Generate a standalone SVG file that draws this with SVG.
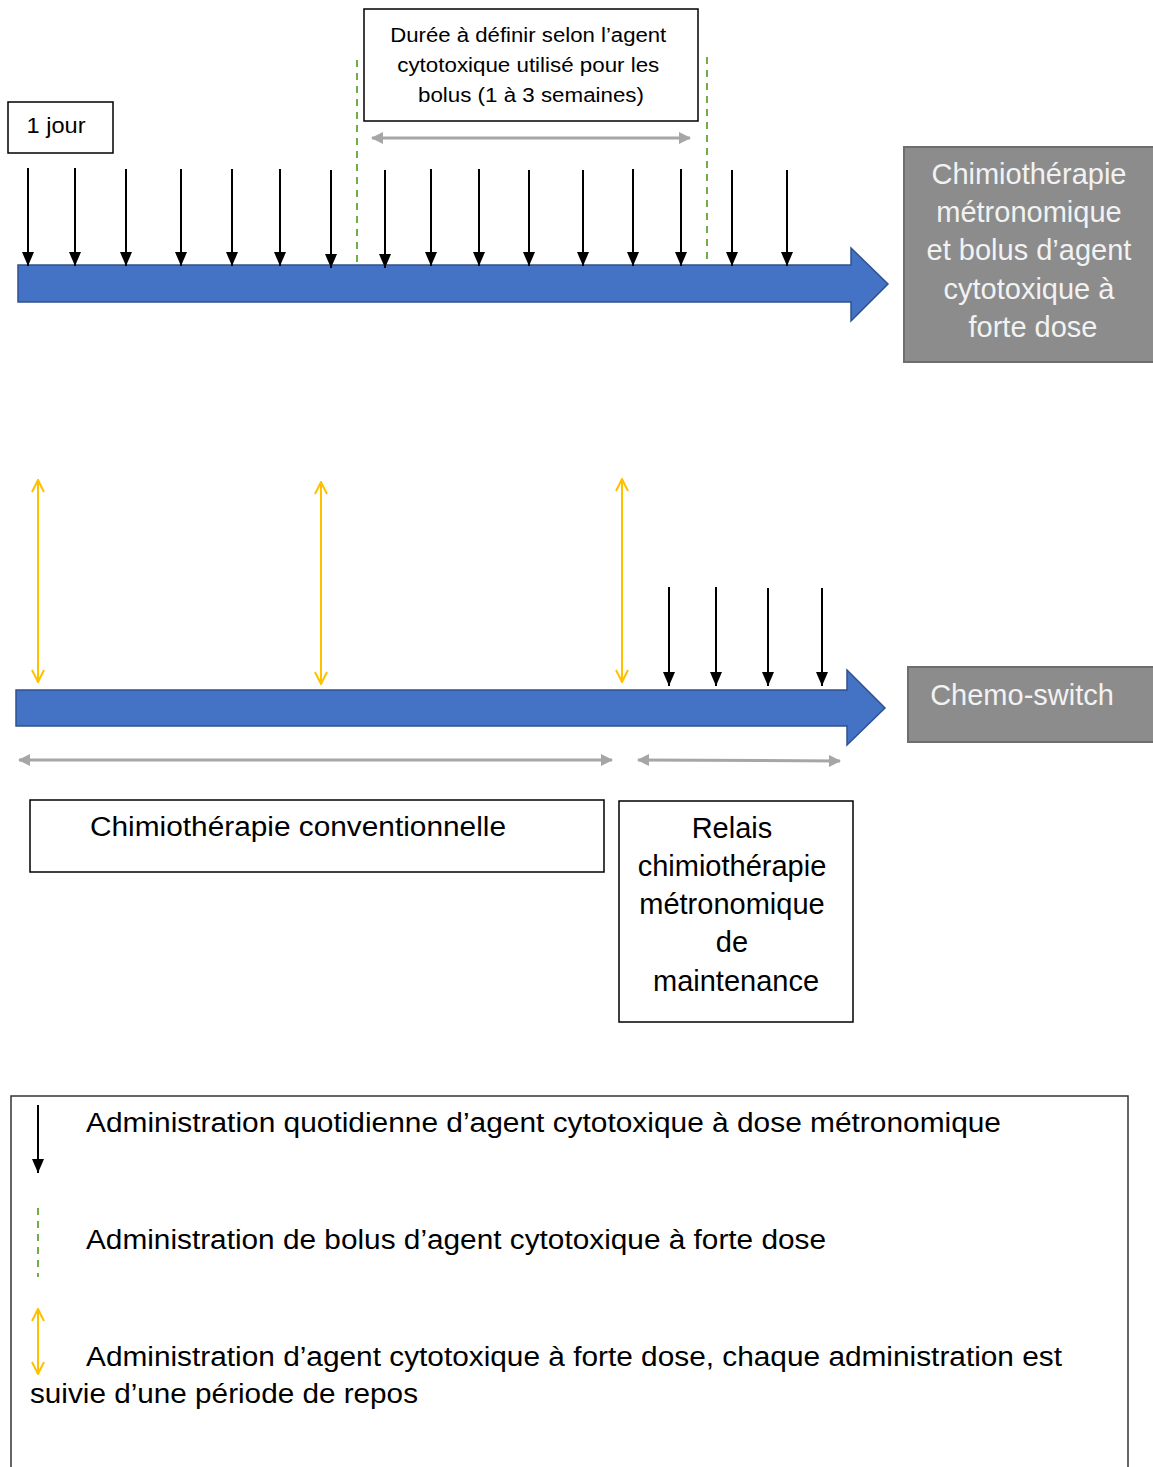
<svg xmlns="http://www.w3.org/2000/svg" width="1153" height="1467" viewBox="0 0 1153 1467">
<style>
.t{font-family:"Liberation Sans",Arial,sans-serif;fill:#000}
.w{font-family:"Liberation Sans",Arial,sans-serif;fill:#f2f2f2;font-size:29px}
.box{fill:#fff;stroke:#000;stroke-width:1.5}
.gbox{fill:#8c8c8c;stroke:#6e6e6e;stroke-width:2}
.blk{stroke:#000;stroke-width:2;fill:none;marker-end:url(#mb)}
.yel{stroke:#FFC000;stroke-width:2;fill:none;marker-start:url(#my);marker-end:url(#my)}
.gry{stroke:#a6a6a6;stroke-width:3;fill:none;marker-start:url(#mg);marker-end:url(#mg)}
.grn{stroke:#70AD47;stroke-width:2;stroke-dasharray:7,6;fill:none}
.blue{fill:#4472C4;stroke:#2F528F;stroke-width:1.5}
</style>
<defs>
<marker id="mb" viewBox="0 0 14 12" markerWidth="14" markerHeight="12" refX="14" refY="6" orient="auto" markerUnits="userSpaceOnUse"><path d="M0,0 L14,6 L0,12 z" fill="#000"/></marker>
<marker id="my" viewBox="0 0 14 14" markerWidth="14" markerHeight="14" refX="13" refY="7" orient="auto-start-reverse" markerUnits="userSpaceOnUse"><path d="M1,1 L13,7 L1,13" fill="none" stroke="#FFC000" stroke-width="2"/></marker>
<marker id="mg" viewBox="0 0 12 12" markerWidth="12" markerHeight="12" refX="11" refY="6" orient="auto-start-reverse" markerUnits="userSpaceOnUse"><path d="M0,0 L12,6 L0,12 z" fill="#a6a6a6"/></marker>
</defs>

<g id="timeline1">
<path class="blue" d="M18,265 L851,265 L851,248 L888,284 L851,321 L851,302 L18,302 z"/>
</g>
<g id="timeline2">
<path class="blue" d="M16,690 L847,690 L847,670 L885,708 L847,745 L847,726 L16,726 z"/>
</g>

<g id="node-jour">
<rect class="box" x="8" y="102" width="105" height="51"/>
<text class="t" x="56" y="133" font-size="22" text-anchor="middle" textLength="59" lengthAdjust="spacingAndGlyphs">1 jour</text>
</g>
<g id="node-duree">
<rect class="box" x="364" y="9" width="334" height="112"/>
<text class="t" font-size="19.5" text-anchor="middle">
<tspan x="531" y="42" textLength="276" lengthAdjust="spacingAndGlyphs">Durée à définir selon l’agent</tspan>
<tspan x="531" y="72" textLength="262" lengthAdjust="spacingAndGlyphs">cytotoxique utilisé pour les</tspan>
<tspan x="531" y="102" textLength="226" lengthAdjust="spacingAndGlyphs">bolus (1 à 3 semaines)</tspan>
</text>
</g>
<g id="node-metro">
<rect class="gbox" x="904" y="147" width="252" height="215"/>
<text class="w" text-anchor="middle">
<tspan x="1033" y="184">Chimiothérapie</tspan>
<tspan x="1033" y="222">métronomique</tspan>
<tspan x="1033" y="260">et bolus d’agent</tspan>
<tspan x="1033" y="299">cytotoxique à</tspan>
<tspan x="1033" y="337">forte dose</tspan>
</text>
</g>
<g id="node-switch">
<rect class="gbox" x="908" y="667" width="248" height="75"/>
<text class="w" x="1022" y="705" text-anchor="middle">Chemo-switch</text>
</g>
<g id="node-conv">
<rect class="box" x="30" y="800" width="574" height="72"/>
<text class="t" x="90" y="836" font-size="27" textLength="416" lengthAdjust="spacingAndGlyphs">Chimiothérapie conventionnelle</text>
</g>
<g id="node-relais">
<rect class="box" x="619" y="801" width="234" height="221"/>
<text class="t" font-size="29" text-anchor="middle">
<tspan x="736" y="838">Relais</tspan>
<tspan x="736" y="876">chimiothérapie</tspan>
<tspan x="736" y="914">métronomique</tspan>
<tspan x="736" y="952">de</tspan>
<tspan x="736" y="991">maintenance</tspan>
</text>
</g>

<g id="connectors">
<line class="grn" x1="357" y1="60" x2="357" y2="268"/>
<line class="grn" x1="707" y1="57" x2="707" y2="265"/>
<line class="gry" x1="372" y1="138" x2="690" y2="138"/>
<line class="blk" x1="28" y1="168" x2="28" y2="266"/>
<line class="blk" x1="75" y1="168" x2="75" y2="266"/>
<line class="blk" x1="126" y1="169" x2="126" y2="266"/>
<line class="blk" x1="181" y1="169" x2="181" y2="266"/>
<line class="blk" x1="232" y1="169" x2="232" y2="266"/>
<line class="blk" x1="280" y1="169" x2="280" y2="266"/>
<line class="blk" x1="331" y1="170" x2="331" y2="268"/>
<line class="blk" x1="385" y1="170" x2="385" y2="268"/>
<line class="blk" x1="431" y1="169" x2="431" y2="266"/>
<line class="blk" x1="479" y1="169" x2="479" y2="266"/>
<line class="blk" x1="529" y1="170" x2="529" y2="266"/>
<line class="blk" x1="583" y1="170" x2="583" y2="266"/>
<line class="blk" x1="633" y1="169" x2="633" y2="266"/>
<line class="blk" x1="681" y1="169" x2="681" y2="266"/>
<line class="blk" x1="732" y1="170" x2="732" y2="266"/>
<line class="blk" x1="787" y1="170" x2="787" y2="266"/>

<line class="yel" x1="38" y1="480" x2="38" y2="682"/>
<line class="yel" x1="321" y1="482" x2="321" y2="684"/>
<line class="yel" x1="622" y1="479" x2="622" y2="682"/>
<line class="blk" x1="669" y1="587" x2="669" y2="686"/>
<line class="blk" x1="716" y1="587" x2="716" y2="686"/>
<line class="blk" x1="768" y1="588" x2="768" y2="686"/>
<line class="blk" x1="822" y1="588" x2="822" y2="686"/>
<line class="gry" x1="19" y1="760" x2="612" y2="760"/>
<line class="gry" x1="638" y1="760" x2="840" y2="761"/>
</g>

<g id="legend">
<rect x="11" y="1096" width="1117" height="380" fill="#fff" stroke="#333" stroke-width="1.5"/>
<line class="blk" x1="38" y1="1105" x2="38" y2="1173"/>
<line class="grn" x1="38" y1="1208" x2="38" y2="1277" stroke-dasharray="9,7" stroke-width="1.5"/>
<line class="yel" x1="38" y1="1309" x2="38" y2="1374"/>
<text class="t" x="86" y="1132" font-size="27" textLength="915" lengthAdjust="spacingAndGlyphs">Administration quotidienne d’agent cytotoxique à dose métronomique</text>
<text class="t" x="86" y="1249" font-size="27" textLength="740" lengthAdjust="spacingAndGlyphs">Administration de bolus d’agent cytotoxique à forte dose</text>
<text class="t" x="86" y="1366" font-size="27" textLength="976" lengthAdjust="spacingAndGlyphs">Administration d’agent cytotoxique à forte dose, chaque administration est</text>
<text class="t" x="30" y="1403" font-size="27" textLength="388" lengthAdjust="spacingAndGlyphs">suivie d’une période de repos</text>
</g>
</svg>
